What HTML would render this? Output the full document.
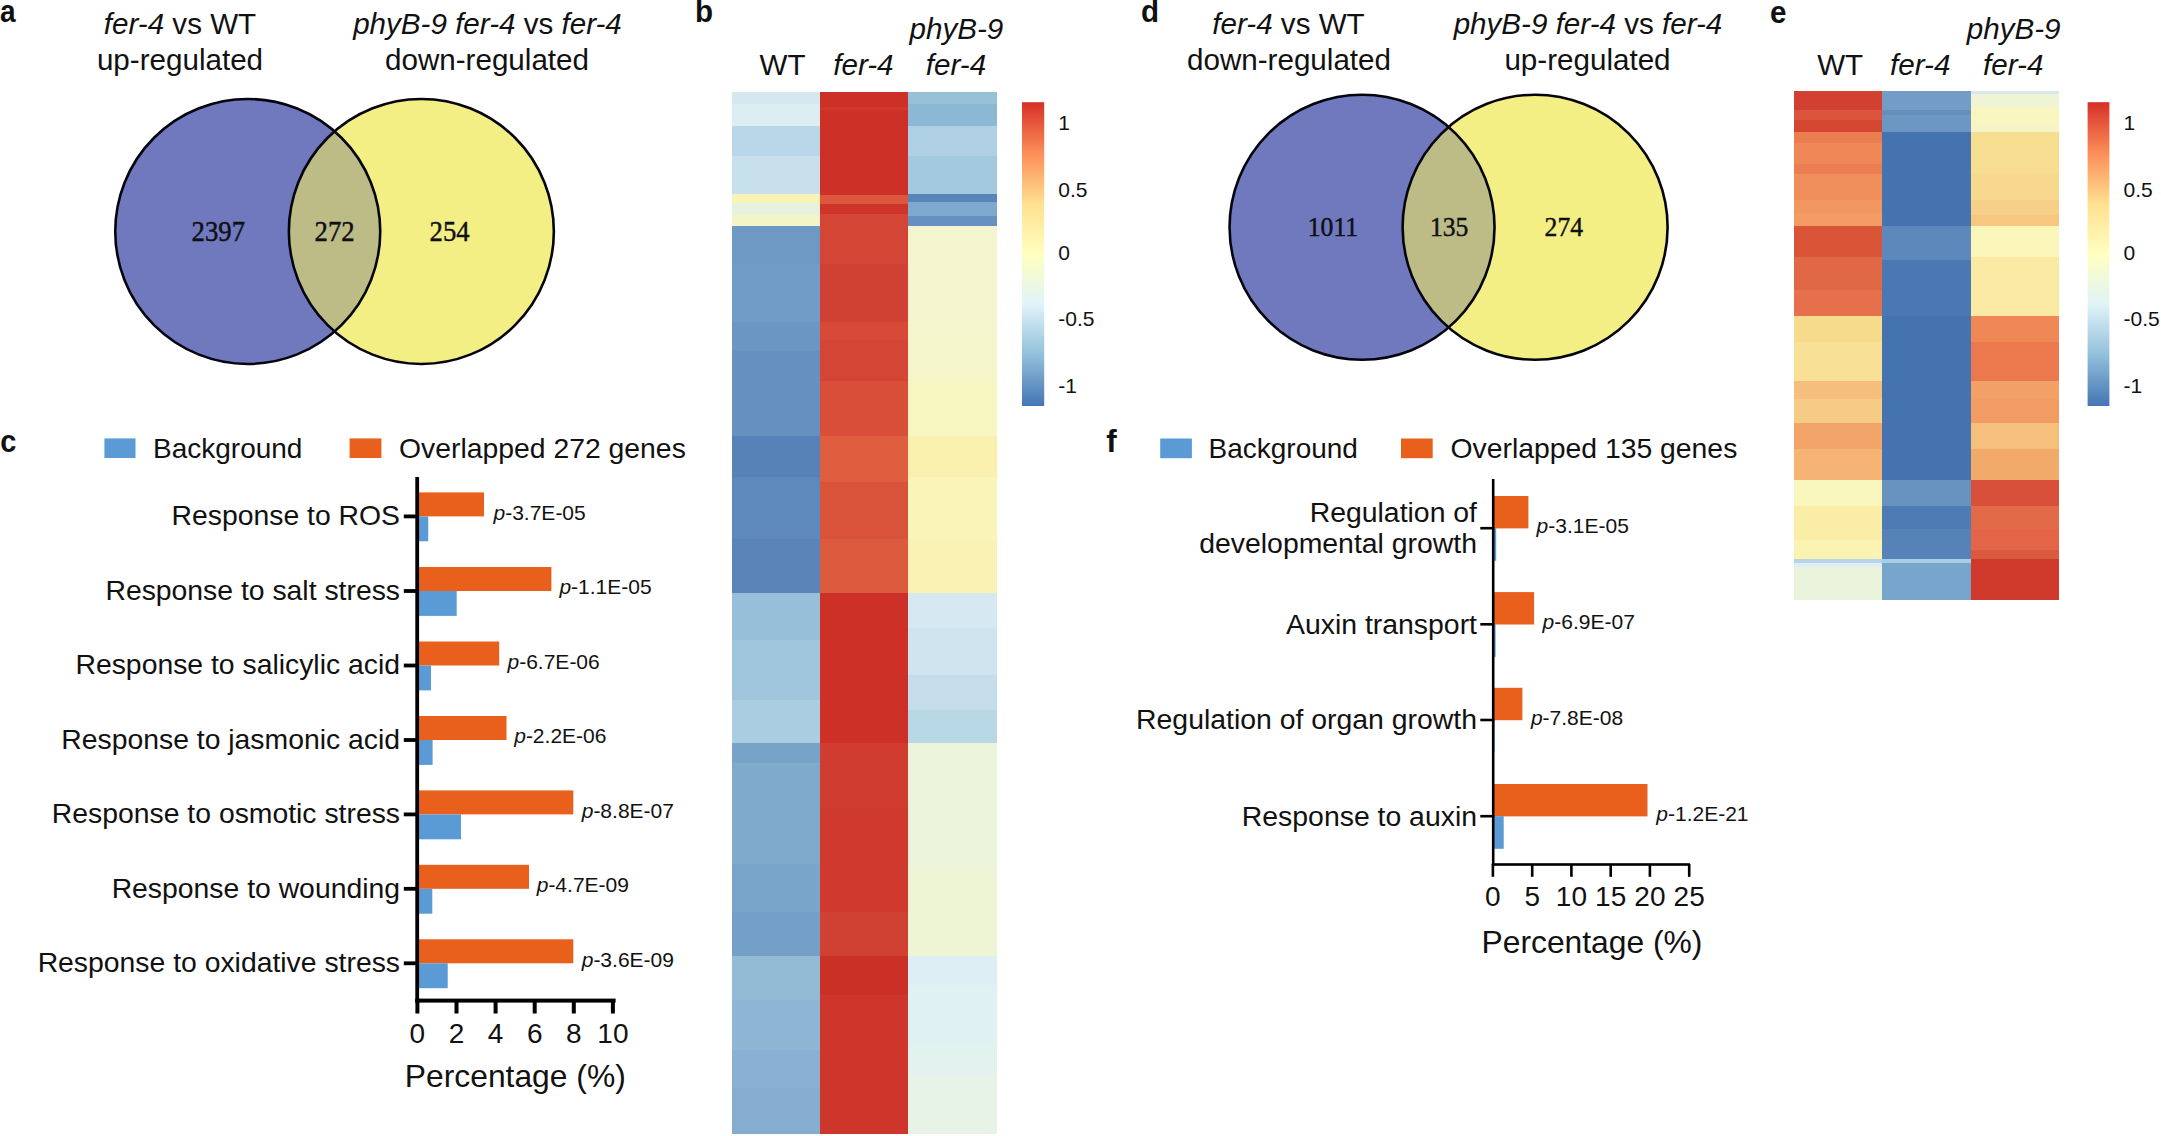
<!DOCTYPE html>
<html lang="en"><head><meta charset="utf-8"><title>Figure</title>
<style>html,body{margin:0;padding:0;background:#fff}svg{display:block}text{font-family:"Liberation Sans", sans-serif;fill:#111}text.sf{font-family:"Liberation Serif", serif}</style></head><body>
<svg width="2161" height="1136" viewBox="0 0 2161 1136">
<defs><linearGradient id="cb" x1="0" y1="0" x2="0" y2="1">
<stop offset="0.0000" stop-color="#D73027"/>
<stop offset="0.1667" stop-color="#FC8D59"/>
<stop offset="0.3333" stop-color="#FEE090"/>
<stop offset="0.5000" stop-color="#FFFFBF"/>
<stop offset="0.6667" stop-color="#E0F3F8"/>
<stop offset="0.8333" stop-color="#91BFDB"/>
<stop offset="1.0000" stop-color="#4575B4"/>
</linearGradient></defs>
<rect width="2161" height="1136" fill="#fff"/>
<text transform="translate(0,22.2) scale(0.92,1)" font-size="30.5" font-weight="bold">a</text>
<text transform="translate(695,22.2) scale(0.97,1)" font-size="30.5" font-weight="bold">b</text>
<text transform="translate(1141,22.2) scale(0.97,1)" font-size="30.5" font-weight="bold">d</text>
<text transform="translate(1770,22.5) scale(0.97,1)" font-size="30.5" font-weight="bold">e</text>
<text transform="translate(0.3,452.2) scale(0.95,1)" font-size="30.5" font-weight="bold">c</text>
<text transform="translate(1106.3,451.8) scale(1.03,1)" font-size="30.5" font-weight="bold">f</text>
<text x="180" y="33.5" font-size="29.6" text-anchor="middle"><tspan font-style="italic">fer-4</tspan> vs WT</text>
<text x="180" y="69.5" font-size="29.6" text-anchor="middle">up-regulated</text>
<text x="487.5" y="33.5" font-size="29.6" text-anchor="middle"><tspan font-style="italic">phyB-9 fer-4</tspan> vs <tspan font-style="italic">fer-4</tspan></text>
<text x="487" y="69.5" font-size="29.6" text-anchor="middle">down-regulated</text>
<circle cx="247.75" cy="231.45" r="132.5" fill="#7079BD"/>
<circle cx="421.35" cy="231.45" r="132.5" fill="#F4EF85"/>
<clipPath id="cp247"><circle cx="247.75" cy="231.45" r="132.5"/></clipPath>
<circle cx="421.35" cy="231.45" r="132.5" fill="#BDBB86" clip-path="url(#cp247)"/>
<circle cx="247.75" cy="231.45" r="132.5" fill="none" stroke="#05050f" stroke-width="2.6"/>
<circle cx="421.35" cy="231.45" r="132.5" fill="none" stroke="#05050f" stroke-width="2.6"/>
<text class="sf" transform="translate(218.3,241.1) scale(0.93,1)" font-size="28.7" text-anchor="middle" fill="#0c0c18" stroke="#0c0c18" stroke-width="0.45">2397</text>
<text class="sf" transform="translate(334.6,241.1) scale(0.93,1)" font-size="28.7" text-anchor="middle" fill="#0c0c18" stroke="#0c0c18" stroke-width="0.45">272</text>
<text class="sf" transform="translate(449.6,241.1) scale(0.93,1)" font-size="28.7" text-anchor="middle" fill="#0c0c18" stroke="#0c0c18" stroke-width="0.45">254</text>
<text x="1288.5" y="33.5" font-size="29.6" text-anchor="middle"><tspan font-style="italic">fer-4</tspan> vs WT</text>
<text x="1289" y="69.5" font-size="29.6" text-anchor="middle">down-regulated</text>
<text x="1588" y="33.5" font-size="29.6" text-anchor="middle"><tspan font-style="italic">phyB-9 fer-4</tspan> vs <tspan font-style="italic">fer-4</tspan></text>
<text x="1587.5" y="69.5" font-size="29.6" text-anchor="middle">up-regulated</text>
<circle cx="1362.05" cy="227.25" r="132.5" fill="#7079BD"/>
<circle cx="1535.1" cy="227.25" r="132.5" fill="#F4EF85"/>
<clipPath id="cp1362"><circle cx="1362.05" cy="227.25" r="132.5"/></clipPath>
<circle cx="1535.1" cy="227.25" r="132.5" fill="#BDBB86" clip-path="url(#cp1362)"/>
<circle cx="1362.05" cy="227.25" r="132.5" fill="none" stroke="#05050f" stroke-width="2.6"/>
<circle cx="1535.1" cy="227.25" r="132.5" fill="none" stroke="#05050f" stroke-width="2.6"/>
<text class="sf" transform="translate(1332.9,236.4) scale(0.93,1)" font-size="27.6" text-anchor="middle" fill="#0c0c18" stroke="#0c0c18" stroke-width="0.45">1011</text>
<text class="sf" transform="translate(1449.2,236.4) scale(0.93,1)" font-size="27.6" text-anchor="middle" fill="#0c0c18" stroke="#0c0c18" stroke-width="0.45">135</text>
<text class="sf" transform="translate(1563.8,236.4) scale(0.93,1)" font-size="27.6" text-anchor="middle" fill="#0c0c18" stroke="#0c0c18" stroke-width="0.45">274</text>
<g shape-rendering="crispEdges">
<rect x="731.6" y="91.7" width="89.2" height="13.1" fill="#D5E8F0"/>
<rect x="731.6" y="103.8" width="89.2" height="23.5" fill="#DDEEF3"/>
<rect x="731.6" y="126.3" width="89.2" height="31.1" fill="#B9D7E8"/>
<rect x="731.6" y="156.4" width="89.2" height="38.1" fill="#C8E0EC"/>
<rect x="731.6" y="193.5" width="89.2" height="10.5" fill="#FAF3B8"/>
<rect x="731.6" y="203" width="89.2" height="12.7" fill="#E6F2DD"/>
<rect x="731.6" y="214.7" width="89.2" height="12.0" fill="#F3F5C8"/>
<rect x="731.6" y="225.7" width="89.2" height="39.3" fill="#6E99C5"/>
<rect x="731.6" y="264" width="89.2" height="58.5" fill="#719CC7"/>
<rect x="731.6" y="321.5" width="89.2" height="30.9" fill="#6B95C2"/>
<rect x="731.6" y="351.4" width="89.2" height="85.6" fill="#6590BF"/>
<rect x="731.6" y="436" width="89.2" height="42.4" fill="#5782B8"/>
<rect x="731.6" y="477.4" width="89.2" height="62.6" fill="#5D89BC"/>
<rect x="731.6" y="539" width="89.2" height="55.3" fill="#5A84B8"/>
<rect x="731.6" y="593.3" width="89.2" height="47.7" fill="#98BFD9"/>
<rect x="731.6" y="640" width="89.2" height="61.0" fill="#A0C6DD"/>
<rect x="731.6" y="700" width="89.2" height="44.0" fill="#ABCDE2"/>
<rect x="731.6" y="743" width="89.2" height="21.0" fill="#77A3C8"/>
<rect x="731.6" y="763" width="89.2" height="102.0" fill="#80AACC"/>
<rect x="731.6" y="864" width="89.2" height="49.0" fill="#7AA5CA"/>
<rect x="731.6" y="912" width="89.2" height="45.4" fill="#749FC7"/>
<rect x="731.6" y="956.4" width="89.2" height="44.6" fill="#92BBD6"/>
<rect x="731.6" y="1000" width="89.2" height="51.0" fill="#8DB6D4"/>
<rect x="731.6" y="1050" width="89.2" height="39.0" fill="#8AB1D3"/>
<rect x="731.6" y="1088" width="89.2" height="45.5" fill="#84ADCF"/>
<rect x="820.0" y="91.7" width="89.0" height="16.3" fill="#CC3027"/>
<rect x="820.0" y="107" width="89.0" height="4.0" fill="#D1382C"/>
<rect x="820.0" y="110" width="89.0" height="85.5" fill="#CC3027"/>
<rect x="820.0" y="194.5" width="89.0" height="10.5" fill="#DB573D"/>
<rect x="820.0" y="204" width="89.0" height="10.5" fill="#CE3429"/>
<rect x="820.0" y="213.5" width="89.0" height="13.2" fill="#D54535"/>
<rect x="820.0" y="225.7" width="89.0" height="39.3" fill="#D44535"/>
<rect x="820.0" y="264" width="89.0" height="58.5" fill="#D04033"/>
<rect x="820.0" y="321.5" width="89.0" height="19.5" fill="#D84A38"/>
<rect x="820.0" y="340" width="89.0" height="42.0" fill="#D44535"/>
<rect x="820.0" y="381" width="89.0" height="56.0" fill="#D94E38"/>
<rect x="820.0" y="436" width="89.0" height="47.0" fill="#DF5E40"/>
<rect x="820.0" y="482" width="89.0" height="58.0" fill="#D9533A"/>
<rect x="820.0" y="539" width="89.0" height="55.3" fill="#DC5A3E"/>
<rect x="820.0" y="593.3" width="89.0" height="150.7" fill="#CC3027"/>
<rect x="820.0" y="743" width="89.0" height="66.0" fill="#D03D30"/>
<rect x="820.0" y="808" width="89.0" height="105.0" fill="#CF392E"/>
<rect x="820.0" y="912" width="89.0" height="45.4" fill="#D04033"/>
<rect x="820.0" y="956.4" width="89.0" height="39.6" fill="#CB3027"/>
<rect x="820.0" y="995" width="89.0" height="138.5" fill="#CF362B"/>
<rect x="908.2" y="91.7" width="89.1" height="13.1" fill="#98C1D8"/>
<rect x="908.2" y="103.8" width="89.1" height="23.5" fill="#8BB8D5"/>
<rect x="908.2" y="126.3" width="89.1" height="31.1" fill="#AECFE4"/>
<rect x="908.2" y="156.4" width="89.1" height="38.9" fill="#A3C9DE"/>
<rect x="908.2" y="194.3" width="89.1" height="8.7" fill="#5785BA"/>
<rect x="908.2" y="202" width="89.1" height="15.0" fill="#7FA8CF"/>
<rect x="908.2" y="216" width="89.1" height="10.7" fill="#6590C0"/>
<rect x="908.2" y="225.7" width="89.1" height="96.8" fill="#F3F5CE"/>
<rect x="908.2" y="321.5" width="89.1" height="61.5" fill="#F4F5CA"/>
<rect x="908.2" y="382" width="89.1" height="55.0" fill="#F7F5C0"/>
<rect x="908.2" y="436" width="89.1" height="42.0" fill="#F9F0AE"/>
<rect x="908.2" y="477" width="89.1" height="63.0" fill="#F9F4B8"/>
<rect x="908.2" y="539" width="89.1" height="55.3" fill="#F9F2B4"/>
<rect x="908.2" y="593.3" width="89.1" height="35.7" fill="#D6E9F3"/>
<rect x="908.2" y="628" width="89.1" height="48.0" fill="#CFE4EE"/>
<rect x="908.2" y="675" width="89.1" height="36.0" fill="#C5DDEA"/>
<rect x="908.2" y="710" width="89.1" height="34.0" fill="#B9D8E6"/>
<rect x="908.2" y="743" width="89.1" height="128.0" fill="#ECF4DB"/>
<rect x="908.2" y="870" width="89.1" height="87.4" fill="#EEF5D4"/>
<rect x="908.2" y="956.4" width="89.1" height="29.6" fill="#DDEFF5"/>
<rect x="908.2" y="985" width="89.1" height="61.0" fill="#DFF1F3"/>
<rect x="908.2" y="1045" width="89.1" height="31.0" fill="#E2F2EE"/>
<rect x="908.2" y="1075" width="89.1" height="58.5" fill="#E8F3E8"/>
</g>
<text x="782.5" y="74.9" font-size="29.6" text-anchor="middle">WT</text>
<text x="863.4" y="74.9" font-size="29.6" text-anchor="middle" font-style="italic">fer-4</text>
<text x="956.4" y="38.9" font-size="29.6" text-anchor="middle" font-style="italic">phyB-9</text>
<text x="956" y="74.9" font-size="29.6" text-anchor="middle" font-style="italic">fer-4</text>
<rect x="1022" y="102.2" width="22.200000000000045" height="303.8" fill="url(#cb)"/>
<text x="1058.3" y="129.8" font-size="21" text-anchor="start">1</text>
<text x="1058.3" y="196.5" font-size="21" text-anchor="start">0.5</text>
<text x="1058.3" y="260" font-size="21" text-anchor="start">0</text>
<text x="1058.3" y="326.3" font-size="21" text-anchor="start">-0.5</text>
<text x="1058.3" y="393" font-size="21" text-anchor="start">-1</text>
<g shape-rendering="crispEdges">
<rect x="1793.8" y="91.4" width="89.3" height="19.8" fill="#D14030"/>
<rect x="1793.8" y="110.2" width="89.3" height="10.5" fill="#DB553D"/>
<rect x="1793.8" y="119.7" width="89.3" height="13.6" fill="#D54632"/>
<rect x="1793.8" y="132.3" width="89.3" height="11.2" fill="#EA7E51"/>
<rect x="1793.8" y="142.5" width="89.3" height="22.5" fill="#EF8757"/>
<rect x="1793.8" y="164" width="89.3" height="11.2" fill="#EB7F53"/>
<rect x="1793.8" y="174.2" width="89.3" height="26.3" fill="#F08E5C"/>
<rect x="1793.8" y="199.5" width="89.3" height="14.5" fill="#F2975F"/>
<rect x="1793.8" y="213" width="89.3" height="14.4" fill="#F39B64"/>
<rect x="1793.8" y="226.4" width="89.3" height="31.5" fill="#DA5538"/>
<rect x="1793.8" y="256.9" width="89.3" height="34.1" fill="#E06845"/>
<rect x="1793.8" y="290" width="89.3" height="27.4" fill="#E5704B"/>
<rect x="1793.8" y="316.4" width="89.3" height="27.0" fill="#F7DB8C"/>
<rect x="1793.8" y="342.4" width="89.3" height="39.2" fill="#F8E096"/>
<rect x="1793.8" y="380.6" width="89.3" height="19.4" fill="#F5BE7C"/>
<rect x="1793.8" y="399" width="89.3" height="25.0" fill="#F5CB85"/>
<rect x="1793.8" y="423" width="89.3" height="27.0" fill="#F3A468"/>
<rect x="1793.8" y="449" width="89.3" height="31.5" fill="#F5B474"/>
<rect x="1793.8" y="479.5" width="89.3" height="27.5" fill="#F9F7BE"/>
<rect x="1793.8" y="506" width="89.3" height="35.0" fill="#FAEDA6"/>
<rect x="1793.8" y="540" width="89.3" height="19.6" fill="#FBF3B2"/>
<rect x="1793.8" y="558.6" width="89.3" height="4.9" fill="#B8D4E5"/>
<rect x="1793.8" y="562.5" width="89.3" height="5.5" fill="#DDEEF4"/>
<rect x="1793.8" y="567" width="89.3" height="33.3" fill="#EAF3DC"/>
<rect x="1882.3" y="91.4" width="89.2" height="19.8" fill="#739DC6"/>
<rect x="1882.3" y="110.2" width="89.2" height="6.1" fill="#648FBE"/>
<rect x="1882.3" y="115.3" width="89.2" height="18.0" fill="#6C97C3"/>
<rect x="1882.3" y="132.3" width="89.2" height="95.1" fill="#4573AF"/>
<rect x="1882.3" y="226.4" width="89.2" height="34.6" fill="#5C88BB"/>
<rect x="1882.3" y="260" width="89.2" height="57.4" fill="#4A78B2"/>
<rect x="1882.3" y="316.4" width="89.2" height="164.1" fill="#4573AF"/>
<rect x="1882.3" y="479.5" width="89.2" height="27.5" fill="#6892C0"/>
<rect x="1882.3" y="506" width="89.2" height="24.0" fill="#4D7CB5"/>
<rect x="1882.3" y="529" width="89.2" height="30.6" fill="#5583B8"/>
<rect x="1882.3" y="558.6" width="89.2" height="5.4" fill="#A8CDE6"/>
<rect x="1882.3" y="563" width="89.2" height="37.3" fill="#78A5CC"/>
<rect x="1970.7" y="91.4" width="88.6" height="3.3" fill="#D5E8EE"/>
<rect x="1970.7" y="93.7" width="88.6" height="14.3" fill="#EFF4D5"/>
<rect x="1970.7" y="107" width="88.6" height="17.5" fill="#F8F6BE"/>
<rect x="1970.7" y="123.5" width="88.6" height="9.8" fill="#F4F4C6"/>
<rect x="1970.7" y="132.3" width="88.6" height="42.9" fill="#F7DD90"/>
<rect x="1970.7" y="174.2" width="88.6" height="26.3" fill="#F7D88C"/>
<rect x="1970.7" y="199.5" width="88.6" height="16.2" fill="#F6D088"/>
<rect x="1970.7" y="214.7" width="88.6" height="12.7" fill="#F7C77F"/>
<rect x="1970.7" y="226.4" width="88.6" height="31.5" fill="#FAF5B8"/>
<rect x="1970.7" y="256.9" width="88.6" height="60.5" fill="#FAE9A2"/>
<rect x="1970.7" y="316.4" width="88.6" height="27.0" fill="#EF8855"/>
<rect x="1970.7" y="342.4" width="88.6" height="39.2" fill="#EC784D"/>
<rect x="1970.7" y="380.6" width="88.6" height="19.4" fill="#F3A066"/>
<rect x="1970.7" y="399" width="88.6" height="25.0" fill="#F29B62"/>
<rect x="1970.7" y="423" width="88.6" height="27.0" fill="#F5BF7C"/>
<rect x="1970.7" y="449" width="88.6" height="31.5" fill="#F2AA6B"/>
<rect x="1970.7" y="479.5" width="88.6" height="27.5" fill="#D9503A"/>
<rect x="1970.7" y="506" width="88.6" height="24.0" fill="#E26A48"/>
<rect x="1970.7" y="529" width="88.6" height="22.0" fill="#E36446"/>
<rect x="1970.7" y="550" width="88.6" height="9.6" fill="#D95A3E"/>
<rect x="1970.7" y="558.6" width="88.6" height="41.7" fill="#D03A2C"/>
</g>
<text x="1840.2" y="74.9" font-size="29.6" text-anchor="middle">WT</text>
<text x="1920.2" y="74.9" font-size="29.6" text-anchor="middle" font-style="italic">fer-4</text>
<text x="2013.7" y="38.9" font-size="29.6" text-anchor="middle" font-style="italic">phyB-9</text>
<text x="2013.2" y="74.9" font-size="29.6" text-anchor="middle" font-style="italic">fer-4</text>
<rect x="2087.6" y="102.2" width="21.800000000000182" height="303.8" fill="url(#cb)"/>
<text x="2123.6" y="129.8" font-size="21" text-anchor="start">1</text>
<text x="2123.6" y="196.5" font-size="21" text-anchor="start">0.5</text>
<text x="2123.6" y="260" font-size="21" text-anchor="start">0</text>
<text x="2123.6" y="326.3" font-size="21" text-anchor="start">-0.5</text>
<text x="2123.6" y="393" font-size="21" text-anchor="start">-1</text>
<rect x="104.4" y="438.4" width="31.1" height="19.6" fill="#5B9BD5"/>
<text x="153" y="458" font-size="28" text-anchor="start">Background</text>
<rect x="349.6" y="438.4" width="31.8" height="19.6" fill="#E8601C"/>
<text x="399" y="458" font-size="28.35" text-anchor="start">Overlapped 272 genes</text>
<rect x="417.2" y="492.4" width="66.8" height="24" fill="#E8601C"/>
<rect x="417.2" y="516.4" width="11.0" height="24.9" fill="#5B9BD5"/>
<rect x="403.8" y="514.5" width="14" height="3.8" fill="#000"/>
<text x="400" y="525.1" font-size="28.35" text-anchor="end">Response to ROS</text>
<text x="493.5" y="519.6999999999999" font-size="21" text-anchor="start"><tspan font-style="italic">p</tspan>-3.7E-05</text>
<rect x="417.2" y="567" width="134.2" height="24" fill="#E8601C"/>
<rect x="417.2" y="591" width="39.5" height="24.9" fill="#5B9BD5"/>
<rect x="403.8" y="589.1" width="14" height="3.8" fill="#000"/>
<text x="400" y="599.7" font-size="28.35" text-anchor="end">Response to salt stress</text>
<text x="559.4" y="594.3" font-size="21" text-anchor="start"><tspan font-style="italic">p</tspan>-1.1E-05</text>
<rect x="417.2" y="641.5" width="82.0" height="24" fill="#E8601C"/>
<rect x="417.2" y="665.5" width="13.8" height="24.9" fill="#5B9BD5"/>
<rect x="403.8" y="663.6" width="14" height="3.8" fill="#000"/>
<text x="400" y="674.2" font-size="28.35" text-anchor="end">Response to salicylic acid</text>
<text x="507.5" y="668.8" font-size="21" text-anchor="start"><tspan font-style="italic">p</tspan>-6.7E-06</text>
<rect x="417.2" y="716" width="89.3" height="24" fill="#E8601C"/>
<rect x="417.2" y="740" width="15.4" height="24.9" fill="#5B9BD5"/>
<rect x="403.8" y="738.1" width="14" height="3.8" fill="#000"/>
<text x="400" y="748.7" font-size="28.35" text-anchor="end">Response to jasmonic acid</text>
<text x="514.2" y="743.3" font-size="21" text-anchor="start"><tspan font-style="italic">p</tspan>-2.2E-06</text>
<rect x="417.2" y="790.4" width="156.1" height="24" fill="#E8601C"/>
<rect x="417.2" y="814.4" width="43.8" height="24.9" fill="#5B9BD5"/>
<rect x="403.8" y="812.5" width="14" height="3.8" fill="#000"/>
<text x="400" y="823.1" font-size="28.35" text-anchor="end">Response to osmotic stress</text>
<text x="581.7" y="817.6999999999999" font-size="21" text-anchor="start"><tspan font-style="italic">p</tspan>-8.8E-07</text>
<rect x="417.2" y="864.8" width="111.8" height="24" fill="#E8601C"/>
<rect x="417.2" y="888.8" width="15.1" height="24.9" fill="#5B9BD5"/>
<rect x="403.8" y="886.9" width="14" height="3.8" fill="#000"/>
<text x="400" y="897.5" font-size="28.35" text-anchor="end">Response to wounding</text>
<text x="536.7" y="892.0999999999999" font-size="21" text-anchor="start"><tspan font-style="italic">p</tspan>-4.7E-09</text>
<rect x="417.2" y="939.3" width="156.1" height="24" fill="#E8601C"/>
<rect x="417.2" y="963.3" width="30.5" height="24.9" fill="#5B9BD5"/>
<rect x="403.8" y="961.4" width="14" height="3.8" fill="#000"/>
<text x="400" y="972.0" font-size="28.35" text-anchor="end">Response to oxidative stress</text>
<text x="581.7" y="966.5999999999999" font-size="21" text-anchor="start"><tspan font-style="italic">p</tspan>-3.6E-09</text>
<rect x="415.3" y="477" width="3.8" height="525.3" fill="#000"/>
<rect x="415.3" y="998.6" width="200.3" height="4" fill="#000"/>
<rect x="415.4" y="1000" width="4" height="13.5" fill="#000"/>
<text x="417.4" y="1043.3" font-size="28" text-anchor="middle">0</text>
<rect x="454.5" y="1000" width="4" height="13.5" fill="#000"/>
<text x="456.5" y="1043.3" font-size="28" text-anchor="middle">2</text>
<rect x="493.6" y="1000" width="4" height="13.5" fill="#000"/>
<text x="495.6" y="1043.3" font-size="28" text-anchor="middle">4</text>
<rect x="532.7" y="1000" width="4" height="13.5" fill="#000"/>
<text x="534.7" y="1043.3" font-size="28" text-anchor="middle">6</text>
<rect x="571.8" y="1000" width="4" height="13.5" fill="#000"/>
<text x="573.8" y="1043.3" font-size="28" text-anchor="middle">8</text>
<rect x="610.9" y="1000" width="4" height="13.5" fill="#000"/>
<text x="612.9" y="1043.3" font-size="28" text-anchor="middle">10</text>
<text x="515.3" y="1086.7" font-size="31.8" text-anchor="middle">Percentage (%)</text>
<rect x="1160.2" y="438.5" width="31.7" height="19.7" fill="#5B9BD5"/>
<text x="1208.5" y="458.2" font-size="28" text-anchor="start">Background</text>
<rect x="1401" y="438.5" width="31.7" height="19.7" fill="#E8601C"/>
<text x="1450.5" y="458.2" font-size="28.35" text-anchor="start">Overlapped 135 genes</text>
<rect x="1493.2" y="496.00000000000006" width="35.2" height="32.4" fill="#E8601C"/>
<rect x="1493.2" y="528.2" width="3.0" height="32.6" fill="#5B9BD5"/>
<rect x="1480.3" y="526.9000000000001" width="14" height="2.6" fill="#000"/>
<text x="1536.6" y="533.0" font-size="21" text-anchor="start"><tspan font-style="italic">p</tspan>-3.1E-05</text>
<rect x="1493.2" y="592.0999999999999" width="40.9" height="32.4" fill="#E8601C"/>
<rect x="1493.2" y="624.3" width="2.4" height="32.6" fill="#5B9BD5"/>
<rect x="1480.3" y="623.0" width="14" height="2.6" fill="#000"/>
<text x="1542.6" y="629.0999999999999" font-size="21" text-anchor="start"><tspan font-style="italic">p</tspan>-6.9E-07</text>
<rect x="1493.2" y="687.8" width="29.2" height="32.4" fill="#E8601C"/>
<rect x="1493.2" y="720" width="1.3" height="32.6" fill="#5B9BD5"/>
<rect x="1480.3" y="718.7" width="14" height="2.6" fill="#000"/>
<text x="1530.9" y="724.8" font-size="21" text-anchor="start"><tspan font-style="italic">p</tspan>-7.8E-08</text>
<rect x="1493.2" y="784.0" width="154.3" height="32.4" fill="#E8601C"/>
<rect x="1493.2" y="816.2" width="10.5" height="32.6" fill="#5B9BD5"/>
<rect x="1480.3" y="814.9000000000001" width="14" height="2.6" fill="#000"/>
<text x="1656.3" y="821.0" font-size="21" text-anchor="start"><tspan font-style="italic">p</tspan>-1.2E-21</text>
<text x="1477" y="521.5" font-size="28.4" text-anchor="end">Regulation of</text>
<text x="1477" y="553.2" font-size="28.4" text-anchor="end">developmental growth</text>
<text x="1477" y="633.6" font-size="28.4" text-anchor="end">Auxin transport</text>
<text x="1477" y="729.4" font-size="28.4" text-anchor="end">Regulation of organ growth</text>
<text x="1477" y="825.6" font-size="28.4" text-anchor="end">Response to auxin</text>
<rect x="1491.9" y="479" width="2.6" height="386.8" fill="#000"/>
<rect x="1491.9" y="863.2" width="198" height="2.6" fill="#000"/>
<rect x="1491.6" y="864" width="2.6" height="12.8" fill="#000"/>
<text x="1492.9" y="906.1" font-size="28" text-anchor="middle">0</text>
<rect x="1530.9" y="864" width="2.6" height="12.8" fill="#000"/>
<text x="1532.2" y="906.1" font-size="28" text-anchor="middle">5</text>
<rect x="1570.1" y="864" width="2.6" height="12.8" fill="#000"/>
<text x="1571.4" y="906.1" font-size="28" text-anchor="middle">10</text>
<rect x="1609.4" y="864" width="2.6" height="12.8" fill="#000"/>
<text x="1610.7" y="906.1" font-size="28" text-anchor="middle">15</text>
<rect x="1648.6" y="864" width="2.6" height="12.8" fill="#000"/>
<text x="1649.9" y="906.1" font-size="28" text-anchor="middle">20</text>
<rect x="1687.9" y="864" width="2.6" height="12.8" fill="#000"/>
<text x="1689.2" y="906.1" font-size="28" text-anchor="middle">25</text>
<text x="1592" y="953.3" font-size="31.8" text-anchor="middle">Percentage (%)</text>
</svg></body></html>
